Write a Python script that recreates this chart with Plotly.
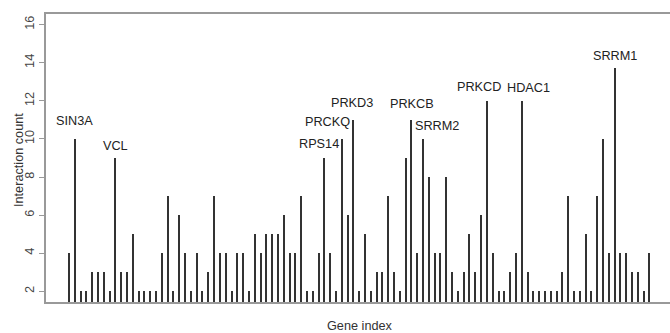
import plotly.graph_objects as go

# Interaction count per gene (gene index 1..101)
counts = [
    4, 10, 2, 2, 3, 3, 3, 2, 9, 3,
    3, 5, 2, 2, 2, 2, 4, 7, 2, 6,
    4, 2, 4, 2, 3, 7, 4, 4, 2, 4,
    4, 2, 5, 4, 5, 5, 5, 6, 4, 4,
    7, 2, 2, 4, 9, 4, 2, 10, 6, 11,
    2, 5, 2, 3, 3, 7, 3, 2, 9, 11,
    4, 10, 8, 4, 4, 8, 3, 2, 3, 5,
    3, 6, 12, 4, 2, 2, 3, 4, 12, 3,
    2, 2, 2, 2, 2, 3, 7, 2, 2, 5,
    2, 7, 10, 4, 13.7, 4, 4, 3, 3, 2,
    4,
]
gene_index = list(range(1, len(counts) + 1))

# Labelled genes: name and gene index
label_names = ["SIN3A", "VCL", "RPS14", "PRCKQ", "PRKD3", "PRKCB", "SRRM2", "PRKCD", "HDAC1", "SRRM1"]
label_genes = [2, 9, 45, 48, 50, 60, 62, 73, 79, 95]

y_ticks = [2, 4, 6, 8, 10, 12, 14, 16]

# label placement (data units) as drawn in the reference
label_pos = {
    "SIN3A": (1.98, 10.96), "VCL": (9.01, 9.65), "RPS14": (44.02, 9.74),
    "PRCKQ": (45.49, 10.88), "PRKD3": (49.8, 11.91), "PRKCB": (60.05, 11.83),
    "SRRM2": (64.35, 10.7), "PRKCD": (71.59, 12.75), "HDAC1": (80.08, 12.67),
    "SRRM1": (95.07, 14.33),
}

FONT = "Liberation Sans, Arial, sans-serif"
fig = go.Figure()
fig.add_trace(go.Bar(
    x=gene_index, y=counts, width=0.25,
    marker=dict(color="#333333", line=dict(width=0)),
    hoverinfo="x+y",
))

for name, g in zip(label_names, label_genes):
    lx, ly = label_pos[name]
    fig.add_annotation(x=lx, y=ly, text=name, showarrow=False,
                       xref="x", yref="y",
                       font=dict(family=FONT, size=12.7, color="#222222"))

# axis titles
fig.add_annotation(text="Gene index", xref="paper", yref="paper",
                   x=0.5027, y=-0.0825, showarrow=False,
                   xanchor="center", yanchor="middle",
                   font=dict(family=FONT, size=12.7, color="#333333"))
fig.add_annotation(text="Interaction count", xref="paper", yref="paper",
                   x=-0.0433, y=0.493, showarrow=False, textangle=-90,
                   xanchor="center", yanchor="middle",
                   font=dict(family=FONT, size=12.7, color="#333333"))

fig.update_layout(
    width=670, height=333,
    margin=dict(l=46, r=0, t=14, b=31),
    paper_bgcolor="white", plot_bgcolor="white",
    showlegend=False, bargap=0,
    font=dict(family=FONT, size=12.7, color="#333333"),
    xaxis=dict(range=[-3, 104.51], showgrid=False, zeroline=False,
               showticklabels=False, ticks="", showline=True, mirror=True,
               linecolor="#999999", linewidth=1.5, automargin=False),
    yaxis=dict(range=[1.44, 16.56], showgrid=False, zeroline=False,
               tickvals=y_ticks, ticks="outside", ticklen=5, tickwidth=1,
               tickcolor="#999999", tickangle=-90, automargin=False,
               tickfont=dict(family=FONT, size=12.7, color="#444444"),
               showline=True, linecolor="#999999", linewidth=1.5),
)

fig.write_html(
    "out.html",
    config={"displayModeBar": False},
    post_script="document.body.style.margin='0px';document.body.style.overflow='hidden';",
)
